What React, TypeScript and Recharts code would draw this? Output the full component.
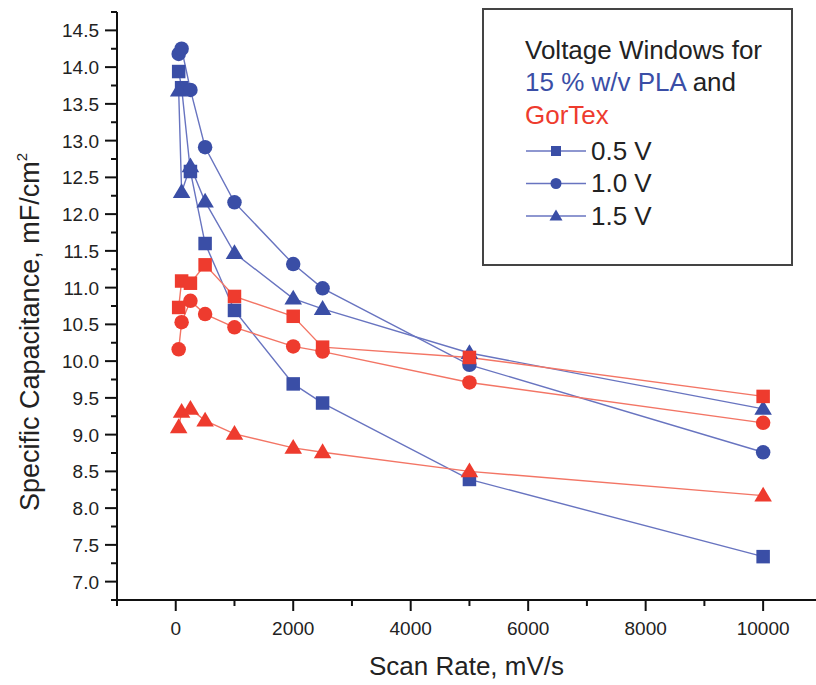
import React from "react"
import {
    ComposedChart,
    Line,
    XAxis,
    YAxis,
    Legend,
    Label
} from "recharts"

// scan rate (mV/s) shared by every series
const scanRates = [50, 100, 250, 500, 1000, 2000, 2500, 5000, 10000]

// specific capacitance, mF/cm2
const plaHalfV = [13.94, 13.72, 12.58, 11.6, 10.69, 9.69, 9.43, 8.39, 7.34]
const plaOneV = [14.18, 14.25, 13.69, 12.91, 12.16, 11.32, 10.99, 9.95, 8.76]
const plaOneHalfV = [13.68, 12.3, 12.65, 12.17, 11.47, 10.85, 10.71, 10.11, 9.35]
const gorHalfV = [10.73, 11.09, 11.06, 11.31, 10.88, 10.61, 10.19, 10.05, 9.52]
const gorOneV = [10.16, 10.53, 10.82, 10.64, 10.46, 10.2, 10.13, 9.71, 9.16]
const gorOneHalfV = [9.1, 9.31, 9.35, 9.19, 9.01, 8.82, 8.76, 8.5, 8.17]

const xMajorTicks = [0, 2000, 4000, 6000, 8000, 10000]
const xMinorTicks = [-1000, 1000, 3000, 5000, 7000, 9000]
const yMajorTicks = [7.0, 7.5, 8.0, 8.5, 9.0, 9.5, 10.0, 10.5, 11.0, 11.5, 12.0, 12.5, 13.0, 13.5, 14.0, 14.5]
const yMinorTicks = [6.75, 7.25, 7.75, 8.25, 8.75, 9.25, 9.75, 10.25, 10.75, 11.25, 11.75, 12.25, 12.75, 13.25, 13.75, 14.25, 14.75]

const legendLabels = ["0.5 V", "1.0 V", "1.5 V"]

const FONT = "'Liberation Sans', Arial, sans-serif"
const BLUE = "#3a4ea6"
const BLUE_LINE = "#6874c0"
const RED = "#ee3b2e"
const RED_LINE = "#f37565"
const AXIS_X = 117
const AXIS_Y = 600

type Shape = "square" | "circle" | "triangle"

const toPoints = (values: number[]) =>
    scanRates.map((x, i) => ({ x, y: values[i] }))

const series = [
    { key: "pla05", values: plaHalfV, shape: "square" as Shape, fill: BLUE, stroke: BLUE_LINE },
    { key: "pla10", values: plaOneV, shape: "circle" as Shape, fill: BLUE, stroke: BLUE_LINE },
    { key: "pla15", values: plaOneHalfV, shape: "triangle" as Shape, fill: BLUE, stroke: BLUE_LINE },
    { key: "gor10", values: gorOneV, shape: "circle" as Shape, fill: RED, stroke: RED_LINE },
    { key: "gor15", values: gorOneHalfV, shape: "triangle" as Shape, fill: RED, stroke: RED_LINE },
    { key: "gor05", values: gorHalfV, shape: "square" as Shape, fill: RED, stroke: RED_LINE }
]

function Marker({ cx, cy, shape, fill, size }: { cx: number; cy: number; shape: Shape; fill: string; size: number }) {
    if (shape === "square") {
        return <rect x={cx - size / 2} y={cy - size / 2} width={size} height={size} fill={fill} />
    }
    if (shape === "circle") {
        return <circle cx={cx} cy={cy} r={size / 2 + 0.5} fill={fill} />
    }
    const w = size * 1.3
    const h = size * 1.1
    return (
        <polygon
            points={`${cx},${cy - h * 0.6} ${cx - w / 2},${cy + h * 0.4} ${cx + w / 2},${cy + h * 0.4}`}
            fill={fill}
        />
    )
}

const makeDot = (shape: Shape, fill: string) => (props: any) => (
    <Marker key={`${shape}-${fill}-${props.index}`} cx={props.cx} cy={props.cy} shape={shape} fill={fill} size={13.5} />
)

const XTick = ({ x, payload }: any) => {
    const major = xMajorTicks.includes(payload.value)
    return (
        <g>
            <line x1={x} x2={x} y1={AXIS_Y} y2={AXIS_Y + (major ? 11 : 6)} stroke="#111" strokeWidth={2} />
            {major && (
                <text x={x} y={635} textAnchor="middle" fontSize={19} fontFamily={FONT} fill="#222">
                    {payload.value}
                </text>
            )}
        </g>
    )
}

const YTick = ({ y, payload }: any) => {
    const major = yMajorTicks.includes(payload.value)
    return (
        <g>
            <line x1={AXIS_X - (major ? 12 : 6)} x2={AXIS_X} y1={y} y2={y} stroke="#111" strokeWidth={2} />
            {major && (
                <text x={99} y={y + 7} textAnchor="end" fontSize={19} fontFamily={FONT} fill="#222">
                    {payload.value.toFixed(1)}
                </text>
            )}
        </g>
    )
}

const YTitle = () => (
    <text
        transform="translate(39, 332) rotate(-90)"
        textAnchor="middle"
        fontSize={27}
        fontFamily={FONT}
        fill="#222"
    >
        Specific Capacitance, mF/cm
        <tspan fontSize={15} dy={-12}>2</tspan>
    </text>
)

// boxed legend in the upper right of the plot
const LegendBox = () => (
    <svg width={312} height={260}>
        <rect x={1} y={1} width={309} height={256} fill="#fff" stroke="#444" strokeWidth={2} />
        <g fontFamily={FONT} fontSize={26} fill="#222">
            <text x={43} y={51}>Voltage Windows for</text>
            <text x={43} y={83}>
                <tspan fill={BLUE}>15 % w/v PLA</tspan> and
            </text>
            <text x={43} y={116} fill={RED}>GorTex</text>
            {legendLabels.map((label, i) => {
                const cy = 143 + i * 32.5
                const shape = series[i].shape
                return (
                    <g key={label}>
                        <line x1={44} x2={104} y1={cy} y2={cy} stroke={BLUE_LINE} strokeWidth={1.6} />
                        <Marker cx={74} cy={cy} shape={shape} fill={BLUE} size={10} />
                        <text x={109} y={cy + 8.5}>{label}</text>
                    </g>
                )
            })}
        </g>
    </svg>
)

export default function App() {
    return (
        <div style={{ position: "absolute", left: 0, top: 0, width: 816, height: 685, background: "#fff" }}>
            <ComposedChart
                width={816}
                height={685}
                margin={{ top: 12, right: 0, bottom: 0, left: 0 }}
            >
                <XAxis
                    type="number"
                    dataKey="x"
                    domain={[-1000, 10900]}
                    ticks={[...xMinorTicks, ...xMajorTicks].sort((a, b) => a - b)}
                    interval={0}
                    allowDataOverflow
                    height={85}
                    axisLine={{ stroke: "#111", strokeWidth: 2 }}
                    tickLine={false}
                    tick={<XTick />}
                >
                    <Label
                        value="Scan Rate, mV/s"
                        position="insideBottom"
                        offset={10}
                        style={{ fontSize: 26, fontFamily: FONT, fill: "#222" }}
                    />
                </XAxis>
                <YAxis
                    type="number"
                    dataKey="y"
                    domain={[6.75, 14.75]}
                    ticks={[...yMinorTicks, ...yMajorTicks].sort((a, b) => a - b)}
                    interval={0}
                    allowDataOverflow
                    width={117}
                    axisLine={{ stroke: "#111", strokeWidth: 2 }}
                    tickLine={false}
                    tick={<YTick />}
                >
                    <Label content={<YTitle />} />
                </YAxis>
                <Legend
                    layout="vertical"
                    align="center"
                    verticalAlign="middle"
                    wrapperStyle={{ left: 482, top: 8, width: 312, height: 260 }}
                    content={<LegendBox />}
                />
                {series.map((s) => (
                    <Line
                        key={s.key}
                        data={toPoints(s.values)}
                        dataKey="y"
                        type="linear"
                        stroke={s.stroke}
                        strokeWidth={1.4}
                        dot={makeDot(s.shape, s.fill)}
                        activeDot={false}
                        isAnimationActive={false}
                        legendType="none"
                    />
                ))}
            </ComposedChart>
        </div>
    )
}
